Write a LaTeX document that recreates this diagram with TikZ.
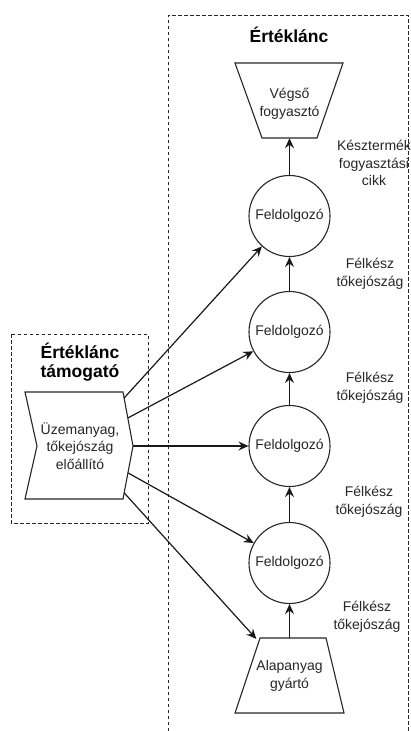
\documentclass[tikz,border=0pt]{standalone}
\usepackage{fontspec}
\setmainfont{Liberation Sans}
\usetikzlibrary{arrows.meta}
\begin{document}
\begin{tikzpicture}[x=1pt,y=-1pt,
  every node/.style={font=\fontsize{14}{17.5}\selectfont, text=black!85, align=center},
  frame/.style={draw=black!85, dash pattern=on 3.5pt off 2.5pt, line width=0.9pt},
  title/.style={font=\fontsize{17.5}{19.5}\selectfont\bfseries, text=black},
  proc/.style={circle, draw=black!85, line width=1.1pt, minimum size=81pt, inner sep=0pt},
  outline/.style={draw=black!85, line width=1.1pt, line join=miter},
  anchorbox/.style={inner sep=0pt},
  flow/.style={draw=black!90, line width=1.2pt, -{Stealth[length=10pt,width=9pt,inset=3.5pt]}},
  note/.style={}
]
\useasboundingbox (0,0) rectangle (411,731);

% value chain frame (open at the bottom)
\draw[frame] (168,731) -- (168,15) -- (408,15) -- (408,731);
\node[title] (vctitle) at (289,35) {Értéklánc};

% support frame
\draw[frame] (11,334) rectangle (148,523);
\node[title] (suptitle) at (80,362) {Értéklánc\\támogató};

% end consumer (inverted trapezoid)
\draw[outline] (235,63) -- (343,63) -- (317,138) -- (262,138) -- cycle;
\node[anchorbox, minimum width=55pt, minimum height=75pt] (cons) at (289.5,100.5) {};
\node at (289.5,104) {Végső\\fogyasztó};

% raw material producer (trapezoid)
\draw[outline] (260,638) -- (326,638) -- (344,713) -- (235,713) -- cycle;
\node[anchorbox, minimum width=66pt, minimum height=75pt] (raw) at (289.5,675.5) {};
\node at (289.5,676) {Alapanyag\\gyártó};

% processors
\node[proc] (p1) at (289.5,216) {Feldolgozó};
\node[proc] (p2) at (289.5,332) {Feldolgozó};
\node[proc] (p3) at (289.5,446) {Feldolgozó};
\node[proc] (p4) at (289.5,563) {Feldolgozó};

% flow labels
\node[note] (l0) at (374,163) {Késztermék\\fogyasztási\\cikk};
\node[note] (l1) at (370,274) {Félkész\\tőkejószág};
\node[note] (l2) at (370,388) {Félkész\\tőkejószág};
\node[note] (l3) at (369,502) {Félkész\\tőkejószág};
\node[note] (l4) at (367,617) {Félkész\\tőkejószág};

% supplier chevron
\draw[outline]
  (25,392) -- (123,392) -- (133,446) -- (123,499) -- (25,499) -- (37,446) -- cycle;
\node (fuel) at (80,446) {Üzemanyag,\\tőkejószág\\előállító};
\coordinate (s1) at (124.1,398);
\coordinate (s2) at (127.8,418);
\coordinate (s3) at (133,446);
\coordinate (s4) at (128.2,473);
\coordinate (s5) at (124.3,493);

% main chain
\draw[flow] (raw) -- (p4);
\draw[flow] (p4) -- (p3);
\draw[flow] (p3) -- (p2);
\draw[flow] (p2) -- (p1);
\draw[flow] (p1) -- (cons);

% supply links
\draw[flow] (s1) -- (p1);
\draw[flow] (s2) -- (p2);
\draw[flow] (s3) -- (p3);
\draw[flow] (s4) -- (p4);
\draw[flow] (s5) -- (raw);
\end{tikzpicture}
\end{document}
